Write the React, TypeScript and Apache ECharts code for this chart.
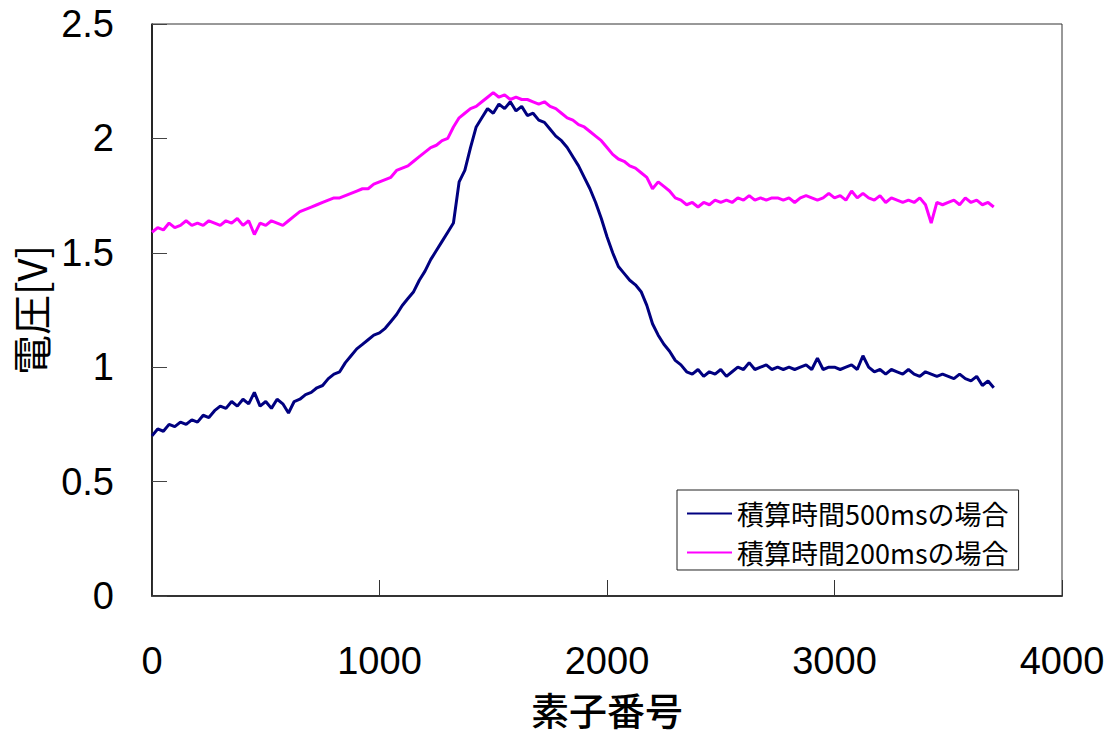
import React, { useEffect, useRef } from "react";
import * as echarts from "echarts";

// element number step between samples
const ELEMENT_STEP = 25;

const xTicks = [0, 1000, 2000, 3000, 4000];
const yTicks = [0, 0.5, 1, 1.5, 2, 2.5];

const seriesNames = ["積算時間500msの場合", "積算時間200msの場合"];

// 積算時間500ms (navy), samples at element 0, 25, 50, ...
const v500 = [
  0.70, 0.73, 0.72, 0.75, 0.74, 0.76, 0.75, 0.77, 0.76, 0.79,
  0.78, 0.81, 0.83, 0.82, 0.85, 0.83, 0.86, 0.84, 0.89, 0.83,
  0.85, 0.82, 0.86, 0.84, 0.80, 0.85, 0.86, 0.88, 0.89, 0.91,
  0.92, 0.95, 0.97, 0.98, 1.02, 1.05, 1.08, 1.10, 1.12, 1.14,
  1.15, 1.17, 1.20, 1.23, 1.27, 1.30, 1.33, 1.38, 1.42, 1.47,
  1.51, 1.55, 1.59, 1.63, 1.81, 1.86, 1.96, 2.05, 2.09, 2.13,
  2.11, 2.15, 2.13, 2.16, 2.12, 2.14, 2.10, 2.11, 2.08, 2.07,
  2.04, 2.01, 1.99, 1.96, 1.92, 1.88, 1.83, 1.78, 1.72, 1.65,
  1.57, 1.50, 1.44, 1.41, 1.38, 1.36, 1.33, 1.27, 1.19, 1.14,
  1.10, 1.07, 1.03, 1.01, 0.98, 0.97, 0.99, 0.96, 0.98, 0.97,
  0.99, 0.96, 0.98, 1.00, 0.99, 1.02, 0.99, 1.00, 1.01, 0.99,
  1.00, 0.99, 1.00, 0.99, 1.00, 1.01, 0.99, 1.04, 0.99, 1.00,
  1.00, 0.99, 1.00, 1.01, 0.99, 1.05, 1.00, 0.98, 0.99, 0.97,
  0.99, 0.98, 0.97, 0.99, 0.97, 0.96, 0.98, 0.97, 0.96, 0.97,
  0.96, 0.95, 0.97, 0.95, 0.94, 0.96, 0.92, 0.94, 0.91,
];

// 積算時間200ms (magenta), samples at element 0, 25, 50, ...
const v200 = [
  1.59, 1.61, 1.60, 1.63, 1.61, 1.62, 1.64, 1.62, 1.63, 1.62,
  1.64, 1.63, 1.62, 1.64, 1.63, 1.65, 1.62, 1.64, 1.58, 1.63,
  1.62, 1.64, 1.63, 1.62, 1.64, 1.66, 1.68, 1.69, 1.70, 1.71,
  1.72, 1.73, 1.74, 1.74, 1.75, 1.76, 1.77, 1.78, 1.78, 1.80,
  1.81, 1.82, 1.83, 1.86, 1.87, 1.88, 1.90, 1.92, 1.94, 1.96,
  1.97, 1.99, 2.00, 2.05, 2.09, 2.11, 2.13, 2.14, 2.16, 2.18,
  2.20, 2.18, 2.19, 2.17, 2.18, 2.17, 2.17, 2.16, 2.15, 2.16,
  2.14, 2.13, 2.11, 2.09, 2.08, 2.06, 2.05, 2.03, 2.01, 1.99,
  1.96, 1.93, 1.91, 1.90, 1.88, 1.87, 1.85, 1.83, 1.78, 1.81,
  1.79, 1.77, 1.74, 1.73, 1.71, 1.72, 1.70, 1.72, 1.71, 1.73,
  1.72, 1.73, 1.72, 1.74, 1.73, 1.75, 1.73, 1.74, 1.73, 1.74,
  1.74, 1.73, 1.74, 1.72, 1.74, 1.75, 1.74, 1.73, 1.74, 1.76,
  1.74, 1.75, 1.73, 1.77, 1.74, 1.76, 1.74, 1.73, 1.75, 1.72,
  1.74, 1.73, 1.72, 1.73, 1.72, 1.74, 1.71, 1.63, 1.72, 1.71,
  1.72, 1.73, 1.71, 1.74, 1.72, 1.73, 1.71, 1.72, 1.70,
];

const toPairs = (vals: number[]) => vals.map((v, i) => [i * ELEMENT_STEP, v]);

const NUM_FONT = "'Liberation Sans', Arial, sans-serif";
const CJK_FONT = "'Noto Sans CJK JP', 'Noto Sans', sans-serif";

export default function App() {
  const ref = useRef<HTMLDivElement>(null);
  useEffect(() => {
    if (!ref.current) return;
    const chart = echarts.init(ref.current, undefined, { renderer: "svg" });
    chart.setOption({
      animation: false,
      backgroundColor: "#ffffff",
      grid: {
        left: 152,
        right: 47,
        top: 24,
        bottom: 139,
        show: true,
        borderColor: "#333",
        borderWidth: 1,
        backgroundColor: "transparent",
      },
      legend: {
        orient: "vertical",
        left: 677,
        top: 490,
        data: seriesNames,
        icon: "rect",
        itemWidth: 45,
        itemHeight: 2,
        itemGap: 12,
        padding: [10, 10, 4, 10],
        borderColor: "#222",
        borderWidth: 1,
        backgroundColor: "#fff",
        borderRadius: 0,
        textStyle: { fontFamily: CJK_FONT, fontSize: 27, color: "#000" },
      },
      xAxis: {
        type: "value",
        min: xTicks[0],
        max: xTicks[xTicks.length - 1],
        interval: 1000,
        name: "素子番号",
        nameLocation: "middle",
        nameGap: 91,
        nameTextStyle: { fontFamily: CJK_FONT, fontSize: 38, color: "#000", fontWeight: 500, lineHeight: 42 },
        axisLine: { show: true, lineStyle: { color: "#333", width: 2 } },
        axisTick: { show: true, inside: true, length: 16, lineStyle: { color: "#333", width: 1 } },
        axisLabel: {
          fontFamily: NUM_FONT,
          fontSize: 38,
          lineHeight: 40,
          color: "#000",
          margin: 45,
          formatter: (v: number) => String(v),
        },
        splitLine: { show: false },
      },
      yAxis: {
        type: "value",
        min: yTicks[0],
        max: yTicks[yTicks.length - 1],
        interval: 0.5,
        name: "電圧[V]",
        nameLocation: "middle",
        nameGap: 100,
        nameTextStyle: { fontFamily: CJK_FONT, fontSize: 40, color: "#000" },
        axisLine: { show: true, lineStyle: { color: "#000", width: 1.5 } },
        axisTick: { show: true, inside: true, length: 15, lineStyle: { color: "#444", width: 1 } },
        axisLabel: {
          fontFamily: NUM_FONT,
          fontSize: 38,
          color: "#000",
          margin: 38,
          formatter: (v: number) => String(v),
        },
        splitLine: { show: false },
      },
      series: [
        {
          name: seriesNames[0],
          type: "line",
          data: toPairs(v500),
          showSymbol: false,
          color: "#000080",
          lineStyle: { color: "#000080", width: 3 },
        },
        {
          name: seriesNames[1],
          type: "line",
          data: toPairs(v200),
          showSymbol: false,
          color: "#ff00ff",
          lineStyle: { color: "#ff00ff", width: 3 },
        },
      ],
    });
    return () => chart.dispose();
  }, []);
  return (
    <div
      ref={ref}
      style={{ position: "fixed", left: 0, top: 0, width: 1109, height: 735, background: "#fff" }}
    />
  );
}
